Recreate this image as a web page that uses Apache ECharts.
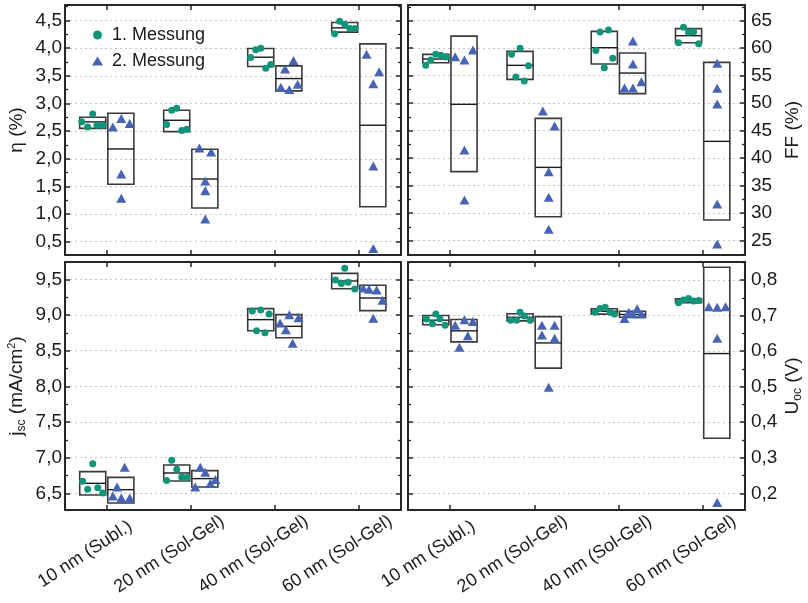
<!DOCTYPE html>
<html>
<head>
<meta charset="utf-8">
<script src="https://cdn.jsdelivr.net/npm/echarts@6/dist/echarts.min.js"></script>
<style>
  html, body { margin: 0; padding: 0; background: #ffffff; }
  #chart { width: 808px; height: 603px; }
</style>
</head>
<body>
<div id="chart"></div>
<script>
// Sample groups along the shared x axis
const categories = ['10 nm (Subl.)', '20 nm (Sol-Gel)', '40 nm (Sol-Gel)', '60 nm (Sol-Gel)'];
const seriesNames = ['1. Messung', '2. Messung'];

// Efficiency η (%) – five cells per group, first and second measurement
const etaRun1 = [
  [2.67, 2.81, 2.575, 2.605, 2.605],
  [2.618, 2.877, 2.913, 2.509, 2.533],
  [3.83, 3.97, 4.0, 3.637, 3.704],
  [4.259, 4.488, 4.434, 4.355, 4.355]
];
const etaRun1Spread = [
  [-0.30, -0.17, -0.23, -0.12, -0.05],
  [-0.29, -0.23, -0.17, -0.11, -0.05],
  [-0.29, -0.23, -0.17, -0.11, -0.05],
  [-0.29, -0.23, -0.17, -0.11, -0.05]
];
const etaRun1Box = [[2.55, 2.667, 2.75], [2.49, 2.696, 2.877], [3.667, 3.836, 3.993], [4.289, 4.367, 4.464]];
const etaRun2 = [
  [2.576, 2.73, 2.636, 1.725, 1.284],
  [2.195, 2.123, 1.598, 1.423, 0.91],
  [3.293, 3.625, 3.251, 3.776, 3.348],
  [3.89, 3.354, 3.571, 1.87, 0.379]
];
const etaRun2Spread = [
  [0.07, 0.17, 0.27, 0.17, 0.17],
  [0.10, 0.24, 0.17, 0.17, 0.17],
  [0.07, 0.12, 0.17, 0.22, 0.27],
  [0.09, 0.17, 0.24, 0.17, 0.17]
];
const etaRun2Box = [[1.538, 2.177, 2.823], [1.109, 1.634, 2.171], [3.227, 3.45, 3.68], [1.133, 2.606, 4.078]];

// Fill factor FF (%)
const ffRun1 = [
  [56.88, 57.85, 58.88, 58.7, 58.4],
  [58.88, 59.97, 56.82, 54.76, 54.03],
  [59.6, 62.94, 63.3, 56.45, 58.15],
  [61.0, 63.79, 62.88, 63.0, 60.82]
];
const ffRun1Spread = [
  [-0.29, -0.23, -0.17, -0.11, -0.05],
  [-0.27, -0.17, -0.07, -0.22, -0.12],
  [-0.27, -0.22, -0.12, -0.17, -0.07],
  [-0.29, -0.23, -0.17, -0.11, -0.05]
];
const ffRun1Box = [[57.36, 58.03, 58.88], [54.33, 56.88, 59.42], [57.12, 60.09, 63.06], [61.0, 62.27, 63.55]];
const ffRun2 = [
  [58.45, 57.85, 59.67, 41.48, 32.4],
  [48.58, 45.85, 37.55, 32.88, 27.06],
  [52.76, 52.76, 61.3, 57.12, 53.9],
  [57.24, 52.7, 49.85, 31.67, 24.4]
];
const ffRun2Spread = [
  [0.06, 0.17, 0.27, 0.17, 0.17],
  [0.10, 0.24, 0.17, 0.17, 0.17],
  [0.07, 0.17, 0.17, 0.17, 0.27],
  [0.17, 0.17, 0.17, 0.17, 0.17]
];
const ffRun2Box = [[37.55, 49.79, 62.2], [29.36, 38.33, 47.24], [51.73, 55.48, 59.12], [28.76, 43.06, 57.42]];

// Short-circuit current density j_sc (mA/cm²)
const jscRun1 = [
  [6.668, 6.916, 6.556, 6.579, 6.505],
  [6.678, 6.963, 6.836, 6.729, 6.72],
  [9.056, 9.07, 9.014, 8.78, 8.752],
  [9.49, 9.44, 9.654, 9.458, 9.364]
];
const jscRun1Spread = [
  [-0.29, -0.17, -0.23, -0.11, -0.05],
  [-0.29, -0.23, -0.17, -0.11, -0.05],
  [-0.27, -0.17, -0.07, -0.22, -0.12],
  [-0.28, -0.21, -0.17, -0.13, -0.05]
];
const jscRun1Box = [[6.477, 6.64, 6.804], [6.673, 6.785, 6.897], [8.78, 8.935, 9.089], [9.369, 9.477, 9.584]];
const jscRun2 = [
  [6.463, 6.589, 6.435, 6.864, 6.435],
  [6.589, 6.864, 6.794, 6.636, 6.692],
  [8.888, 8.794, 9.005, 8.603, 8.963],
  [9.379, 9.36, 9.35, 8.953, 9.206]
];
const jscRun2Spread = [
  [0.07, 0.12, 0.17, 0.21, 0.27],
  [0.05, 0.11, 0.17, 0.23, 0.29],
  [0.06, 0.13, 0.17, 0.21, 0.28],
  [0.05, 0.12, 0.21, 0.17, 0.28]
];
const jscRun2Box = [[6.364, 6.551, 6.724], [6.589, 6.706, 6.818], [8.682, 8.841, 9.005], [9.061, 9.238, 9.416]];

// Open-circuit voltage U_oc (V)
const uocRun1 = [
  [0.690, 0.677, 0.704, 0.690, 0.673],
  [0.687, 0.687, 0.709, 0.699, 0.687],
  [0.709, 0.720, 0.723, 0.709, 0.704],
  [0.736, 0.744, 0.748, 0.741, 0.742]
];
const uocRun1Spread = [
  [-0.28, -0.21, -0.17, -0.12, -0.06],
  [-0.28, -0.21, -0.17, -0.12, -0.05],
  [-0.28, -0.22, -0.16, -0.10, -0.05],
  [-0.29, -0.23, -0.17, -0.11, -0.05]
];
const uocRun1Box = [[0.674, 0.687, 0.700], [0.685, 0.695, 0.705], [0.704, 0.712, 0.719], [0.736, 0.742, 0.747]];
const uocRun2 = [
  [0.673, 0.611, 0.688, 0.643, 0.683],
  [0.673, 0.645, 0.673, 0.636, 0.498],
  [0.692, 0.709, 0.704, 0.719, 0.704],
  [0.725, 0.723, 0.725, 0.636, 0.174]
];
const uocRun2Spread = [
  [0.06, 0.11, 0.17, 0.21, 0.27],
  [0.09, 0.09, 0.24, 0.24, 0.17],
  [0.07, 0.12, 0.17, 0.22, 0.27],
  [0.07, 0.17, 0.27, 0.17, 0.17]
];
const uocRun2Box = [[0.626, 0.657, 0.689], [0.552, 0.623, 0.697], [0.695, 0.703, 0.712], [0.355, 0.593, 0.836]];

const FONT = '"Liberation Sans", Arial, Helvetica, sans-serif';
const INK = '#1a1a1a';
const FRAME = '#262626';
const GREEN = '#11957a';
const BLUE = '#4863b4';

const nameRich = {
  n: { fontSize: 19, fontFamily: FONT, color: INK, lineHeight: 22 },
  sub: { fontSize: 12, fontFamily: FONT, color: INK, lineHeight: 8, verticalAlign: 'bottom' },
  sup: { fontSize: 11, fontFamily: FONT, color: INK, lineHeight: 8, verticalAlign: 'top' }
};

const panels = [
  { grid: { left: 65, top: 5, width: 336, height: 250 }, side: 'left', min: 0.26, max: 4.78, split: 9, digits: 1,
    name: '{n|η (%)}', bottom: false,
    run1: etaRun1, run1Spread: etaRun1Spread, run1Box: etaRun1Box,
    run2: etaRun2, run2Spread: etaRun2Spread, run2Box: etaRun2Box },
  { grid: { left: 408, top: 5, width: 337, height: 250 }, side: 'right', min: 22.4, max: 67.85, split: 9, digits: 0,
    name: '{n|FF (%)}', bottom: false,
    run1: ffRun1, run1Spread: ffRun1Spread, run1Box: ffRun1Box,
    run2: ffRun2, run2Spread: ffRun2Spread, run2Box: ffRun2Box },
  { grid: { left: 65, top: 262, width: 336, height: 248 }, side: 'left', min: 6.266, max: 9.743, split: 7, digits: 1,
    name: '{n|j}{sub|sc}{n| (mA/cm}{sup|2}{n|)}', bottom: true,
    run1: jscRun1, run1Spread: jscRun1Spread, run1Box: jscRun1Box,
    run2: jscRun2, run2Spread: jscRun2Spread, run2Box: jscRun2Box },
  { grid: { left: 408, top: 262, width: 337, height: 248 }, side: 'right', min: 0.153, max: 0.8506, split: 7, digits: 1,
    name: '{n|U}{sub|oc}{n| (V)}', bottom: true,
    run1: uocRun1, run1Spread: uocRun1Spread, run1Box: uocRun1Box,
    run2: uocRun2, run2Spread: uocRun2Spread, run2Box: uocRun2Box }
];

function scatterData(values, spread) {
  const out = [];
  values.forEach((vals, c) => vals.forEach((v, k) => out.push([c + spread[c][k], v])));
  return out;
}

function boxSeries(boxes, axisIndex, from, to) {
  return {
    type: 'custom',
    xAxisIndex: axisIndex,
    yAxisIndex: axisIndex,
    silent: true,
    z: 1,
    encode: { x: 0, y: [1, 2, 3] },
    data: boxes.map((b, c) => [c, b[0], b[1], b[2]]),
    renderItem(params, api) {
      const c = api.value(0);
      const tl = api.coord([c + from, api.value(3)]);
      const br = api.coord([c + to, api.value(1)]);
      const mid = api.coord([c + from, api.value(2)])[1];
      return {
        type: 'group',
        children: [
          { type: 'rect', shape: { x: tl[0], y: tl[1], width: br[0] - tl[0], height: br[1] - tl[1] },
            style: { fill: 'none', stroke: '#3a3a3a', lineWidth: 1.6 } },
          { type: 'line', shape: { x1: tl[0], y1: mid, x2: br[0], y2: mid },
            style: { stroke: '#1a1a1a', lineWidth: 1.4 } }
        ]
      };
    }
  };
}

const tickValues = categories.map((_, i) => i);
const grids = [], xAxes = [], yAxes = [], series = [];

panels.forEach((p, k) => {
  grids.push(p.grid);
  const baseX = {
    type: 'value', gridIndex: k, min: -0.5, max: 3.5,
    axisLine: { show: true, onZero: false, lineStyle: { color: FRAME, width: 2 } },
    axisTick: { show: true, inside: true, length: 5, customValues: tickValues, lineStyle: { color: FRAME, width: 1.5 } },
    splitLine: { show: false }
  };
  xAxes.push(Object.assign({}, baseX, {
    position: 'bottom',
    axisLabel: p.bottom ? {
      show: true, customValues: tickValues, rotate: 33, align: 'center', margin: 30,
      formatter: v => '{t|' + categories[Math.round(v)] + '}{s|}',
      rich: { t: { fontSize: 18, fontFamily: FONT, color: INK }, s: { width: 52 } }
    } : { show: false }
  }));
  xAxes.push(Object.assign({}, baseX, { position: 'top', axisLabel: { show: false } }));

  const baseY = {
    type: 'value', gridIndex: k, min: p.min, max: p.max, splitNumber: p.split,
    axisLine: { show: true, onZero: false, lineStyle: { color: FRAME, width: 2 } },
    axisTick: { show: true, inside: true, length: 5, lineStyle: { color: FRAME, width: 1.5 } },
    minorTick: { show: true, splitNumber: 2, length: 3, lineStyle: { color: FRAME, width: 1.3 } }
  };
  const other = p.side === 'left' ? 'right' : 'left';
  yAxes.push(Object.assign({}, baseY, {
    position: p.side,
    name: p.name,
    nameLocation: 'middle',
    nameGap: 37,
    nameTextStyle: { rich: nameRich },
    splitLine: { show: true, lineStyle: { color: '#c4c4c4', width: 1, type: [2, 3] } },
    axisLabel: {
      show: true, margin: p.side === 'left' ? 3 : 6, showMinLabel: false, showMaxLabel: false,
      fontSize: 19, fontFamily: FONT, color: INK,
      formatter: v => v.toFixed(p.digits).replace('.', ',')
    }
  }));
  yAxes.push(Object.assign({}, baseY, {
    position: other, splitLine: { show: false }, axisLabel: { show: false }
  }));

  const ax = 2 * k;
  series.push(boxSeries(p.run1Box, ax, -0.325, -0.015));
  series.push(boxSeries(p.run2Box, ax, 0.01, 0.32));
  series.push({
    name: seriesNames[0], type: 'scatter', xAxisIndex: ax, yAxisIndex: ax, z: 3,
    symbol: 'circle', symbolSize: 7, itemStyle: { color: GREEN, opacity: 1 },
    data: scatterData(p.run1, p.run1Spread)
  });
  series.push({
    name: seriesNames[1], type: 'scatter', xAxisIndex: ax, yAxisIndex: ax, z: 3,
    symbol: 'triangle', symbolSize: [10, 9], itemStyle: { color: BLUE, opacity: 1 },
    data: scatterData(p.run2, p.run2Spread)
  });
});

const chart = echarts.init(document.getElementById('chart'), null, { renderer: 'canvas' });
chart.setOption({
  animation: false,
  backgroundColor: '#ffffff',
  textStyle: { fontFamily: FONT },
  legend: {
    orient: 'vertical', left: 87, top: 21, itemWidth: 11, itemHeight: 9, itemGap: 8,
    selectedMode: false,
    data: [{ name: seriesNames[0], icon: 'circle' }, { name: seriesNames[1], icon: 'triangle' }],
    textStyle: { fontSize: 18, fontFamily: FONT, color: INK, padding: [0, 0, 0, 4] }
  },
  grid: grids,
  xAxis: xAxes,
  yAxis: yAxes,
  series: series
});
</script>
</body>
</html>
